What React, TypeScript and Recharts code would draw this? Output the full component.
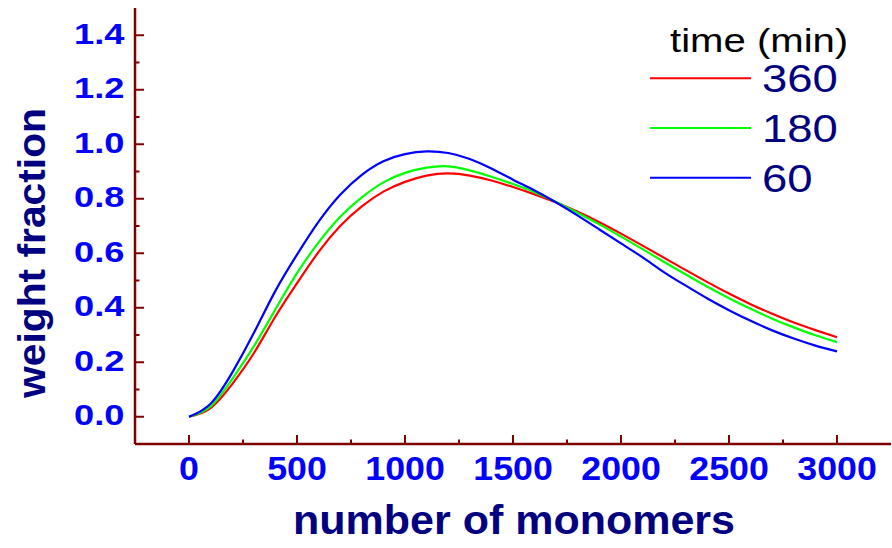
import React from 'react';
import { LineChart, Line, XAxis, YAxis } from 'recharts';

const monomers = [
  0, 100, 200, 300, 400, 500, 600, 700, 800, 900, 1000, 1100, 1200, 1300, 1400, 1500,
  1600, 1700, 1800, 1900, 2000, 2100, 2200, 2300, 2400, 2500, 2600, 2700, 2800, 2900, 3000,
];

const min360 = [
  0, 0.032, 0.12, 0.233, 0.368, 0.49, 0.605, 0.7, 0.772, 0.826, 0.862, 0.885, 0.893, 0.885, 0.867, 0.843,
  0.816, 0.786, 0.752, 0.714, 0.672, 0.628, 0.583, 0.538, 0.494, 0.452, 0.413, 0.378, 0.346, 0.318, 0.292,
];
const min180 = [
  0, 0.038, 0.138, 0.258, 0.394, 0.527, 0.64, 0.734, 0.805, 0.86, 0.895, 0.914, 0.919, 0.904, 0.881, 0.854,
  0.824, 0.788, 0.748, 0.706, 0.661, 0.615, 0.568, 0.522, 0.477, 0.435, 0.396, 0.36, 0.328, 0.299, 0.274,
];
const min60 = [
  0, 0.048, 0.162, 0.307, 0.462, 0.595, 0.716, 0.815, 0.888, 0.938, 0.964, 0.974, 0.968, 0.946, 0.911, 0.87,
  0.83, 0.786, 0.738, 0.687, 0.636, 0.585, 0.53, 0.481, 0.434, 0.391, 0.352, 0.317, 0.287, 0.261, 0.24,
];

const xTicks = [0, 250, 500, 750, 1000, 1250, 1500, 1750, 2000, 2250, 2500, 2750, 3000];
const yTicks = [0, 0.1, 0.2, 0.3, 0.4, 0.5, 0.6, 0.7, 0.8, 0.9, 1.0, 1.1, 1.2, 1.3, 1.4];

const series = [
  { key: 'm360', name: '360', color: '#ff0000' },
  { key: 'm180', name: '180', color: '#00ff00' },
  { key: 'm60', name: '60', color: '#0000ff' },
];

const data = monomers.map((n, i) => ({
  n,
  m360: min360[i],
  m180: min180[i],
  m60: min60[i],
}));

const FONT = '"Liberation Sans", Arial, sans-serif';
const AXIS = '#800000';

function BottomTick({ x, y, payload }: any) {
  const major = payload.value % 500 === 0;
  return (
    <g>
      <line x1={x} x2={x} y1={y} y2={y - (major ? 9 : 4.5)} stroke={AXIS} strokeWidth={2} />
      {major && (
        <text
          transform={`translate(${x},${y + 36}) scale(1.1,1)`}
          textAnchor="middle"
          fontFamily={FONT}
          fontWeight="bold"
          fontSize={32.5}
          fill="#0000ff"
        >
          {payload.value}
        </text>
      )}
    </g>
  );
}

function TopTick({ x, y }: any) {
  return <line x1={x} x2={x} y1={y} y2={y + 3} stroke={AXIS} strokeWidth={1.5} />;
}

function LeftTick({ x, y, payload }: any) {
  const major = Math.round(payload.value * 10) % 2 === 0;
  return (
    <g>
      <line x1={x} x2={x + (major ? 9 : 4.5)} y1={y} y2={y} stroke={AXIS} strokeWidth={2} />
      {major && (
        <text
          transform={`translate(${x - 10.5},${y + 8.3}) scale(1.25,1)`}
          textAnchor="end"
          fontFamily={FONT}
          fontWeight="bold"
          fontSize={29}
          fill="#0000ff"
        >
          {payload.value.toFixed(1)}
        </text>
      )}
    </g>
  );
}

export default function App() {
  return (
    <div style={{ position: 'absolute', left: 0, top: 0, width: 892, height: 548, background: '#fff' }}>
      <LineChart width={892} height={548} data={data} margin={{ top: 8, right: 1, left: 0, bottom: 0 }}>
        <XAxis
          dataKey="n"
          type="number"
          domain={[-250, 3250]}
          ticks={xTicks}
          interval={0}
          height={104}
          tickSize={0}
          tickMargin={0}
          tickLine={false}
          tick={<BottomTick />}
          axisLine={{ stroke: AXIS, strokeWidth: 2.5 }}
          allowDataOverflow
        />
        <XAxis
          xAxisId="top"
          orientation="top"
          dataKey="n"
          type="number"
          domain={[-250, 3250]}
          ticks={xTicks}
          interval={0}
          height={0}
          tickSize={0}
          tickMargin={0}
          tickLine={false}
          tick={<TopTick />}
          axisLine={{ stroke: AXIS, strokeWidth: 2 }}
        />
        <YAxis
          type="number"
          domain={[-0.1, 1.5]}
          ticks={yTicks}
          interval={0}
          width={135}
          tickSize={0}
          tickMargin={0}
          tickLine={false}
          tick={<LeftTick />}
          axisLine={{ stroke: AXIS, strokeWidth: 2.5 }}
          allowDataOverflow
        />
        <YAxis
          yAxisId="right"
          orientation="right"
          type="number"
          domain={[-0.1, 1.5]}
          width={0}
          tick={false}
          tickLine={false}
          axisLine={{ stroke: AXIS, strokeWidth: 2 }}
        />
        {series.map((s) => (
          <Line
            key={s.key}
            dataKey={s.key}
            name={s.name}
            type="natural"
            stroke={s.color}
            strokeWidth={2.2}
            dot={false}
            activeDot={false}
            isAnimationActive={false}
          />
        ))}
      </LineChart>
      <svg
        width={892}
        height={548}
        style={{ position: 'absolute', left: 0, top: 0, pointerEvents: 'none' }}
      >
        <text
          transform="translate(45,253) rotate(-90)"
          textAnchor="middle"
          fontFamily={FONT}
          fontWeight="bold"
          fontSize={38}
          textLength={290}
          lengthAdjust="spacingAndGlyphs"
          fill="#000080"
        >
          weight fraction
        </text>
        <text
          x={514}
          y={534}
          textAnchor="middle"
          fontFamily={FONT}
          fontWeight="bold"
          fontSize={41}
          textLength={442}
          lengthAdjust="spacingAndGlyphs"
          fill="#000080"
        >
          number of monomers
        </text>
        <text
          transform="translate(670,51.7) scale(1.19,1)"
          fontFamily={FONT}
          fontSize={33.7}
          fill="#000000"
        >
          time (min)
        </text>
        {series.map((s, i) => (
          <g key={s.key}>
            <line x1={650} x2={751} y1={78.3 + i * 49.7} y2={78.3 + i * 49.7} stroke={s.color} strokeWidth={2} />
            <text
              transform={`translate(762,${91.7 + i * 50}) scale(1.15,1)`}
              fontFamily={FONT}
              fontSize={39.5}
              fill="#000080"
            >
              {s.name}
            </text>
          </g>
        ))}
      </svg>
    </div>
  );
}
